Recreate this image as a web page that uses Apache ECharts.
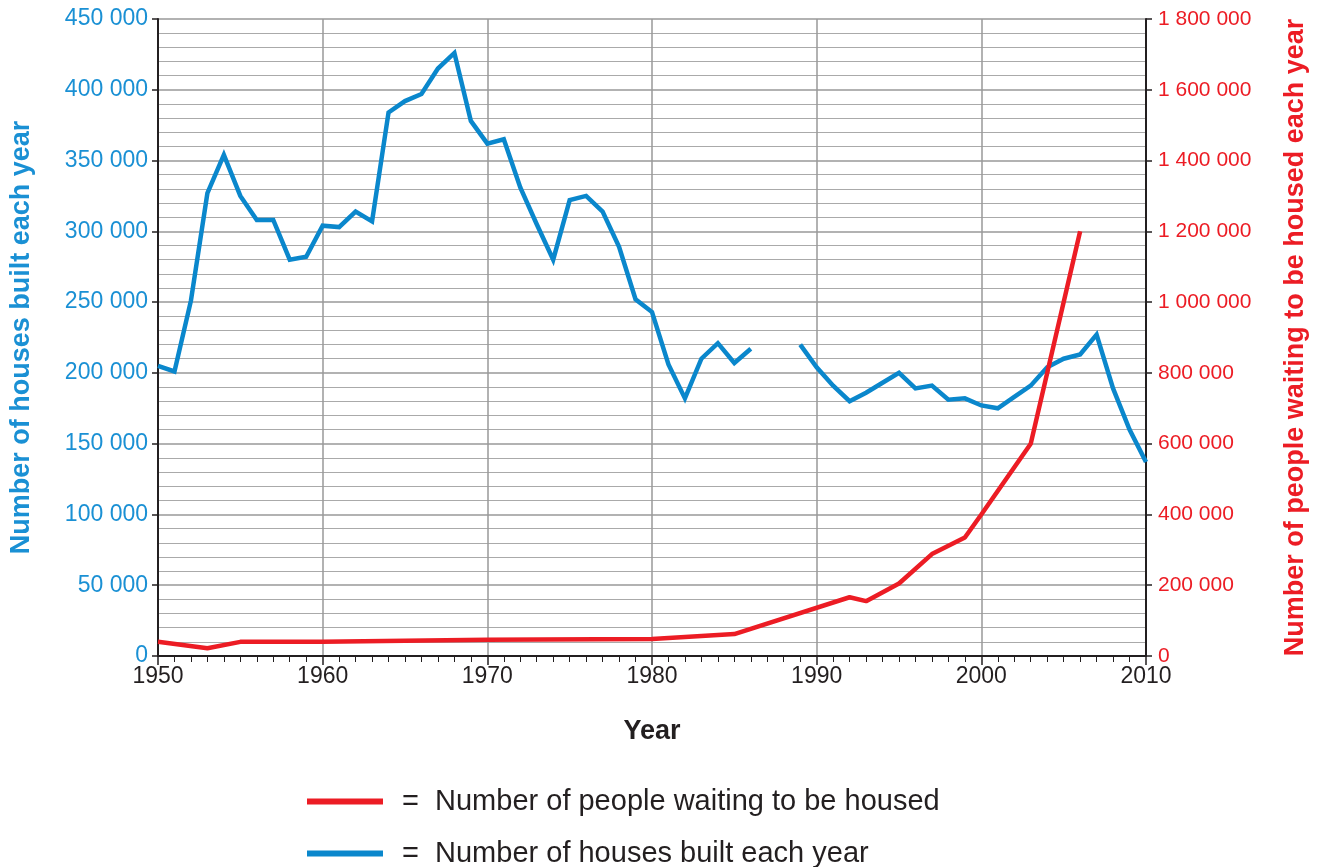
<!DOCTYPE html>
<html>
<head>
<meta charset="utf-8">
<script src="https://cdn.jsdelivr.net/npm/echarts@6/dist/echarts.min.js"></script>
<style>
html,body{margin:0;padding:0;background:#fff;}
#chart{width:1321px;height:867px;}
</style>
</head>
<body>
<div id="chart"></div>
<script>
const years = [1950,1951,1952,1953,1954,1955,1956,1957,1958,1959,1960,1961,1962,1963,1964,1965,1966,1967,1968,1969,1970,1971,1972,1973,1974,1975,1976,1977,1978,1979,1980,1981,1982,1983,1984,1985,1986,1987,1988,1989,1990,1991,1992,1993,1994,1995,1996,1997,1998,1999,2000,2001,2002,2003,2004,2005,2006,2007,2008,2009,2010];
const housesBuilt = [205000,201000,251000,327000,354000,325000,308000,308000,280000,282000,304000,303000,314000,307000,384000,392000,397000,415000,426000,378000,362000,365000,331000,305000,280000,322000,325000,314000,289000,252000,243000,206000,182000,210000,221000,207000,217000,null,null,220000,204000,191000,180000,186000,193000,200000,189000,191000,181000,182000,177000,175000,183000,191000,204000,210000,213000,227000,189000,160000,137000];
const waitingYears = [1950,1953,1955,1960,1970,1980,1985,1992,1993,1995,1997,1999,2000,2003,2006];
const waitingPeople = [40000,22000,40000,40000,46000,48000,62000,166000,155000,205000,288000,335000,400000,600000,1200000];

const nameBuilt = 'Number of houses built each year';
const nameWaiting = 'Number of people waiting to be housed';
const leftAxisName = 'Number of houses built each year';
const rightAxisName = 'Number of people waiting to be housed each year';
const xAxisName = 'Year';

const BLUE = '#0a87cc';
const RED = '#ec1c24';
const LBLUE = '#1a90d4';
const FONT = '"Liberation Sans", Arial, sans-serif';

function fmt(v){ return String(v).replace(/\B(?=(\d{3})+(?!\d))/g, ' '); }

const legendCommon = {
  orient: 'horizontal',
  left: 302,
  itemWidth: 76, itemHeight: 6,
  icon: 'rect',
  formatter: n => '=  ' + n,
  textStyle: { fontSize: 29, color: '#231f20', fontFamily: FONT, padding: [0,0,0,14] }
};

const chart = echarts.init(document.getElementById('chart'));
chart.setOption({
  backgroundColor: '#fff',
  animation: false,
  textStyle: { fontFamily: FONT },
  grid: { left: 158, right: 175, top: 19, bottom: 211, containLabel: false, outerBoundsMode: 'none' },
  legend: [
    Object.assign({}, legendCommon, { data: [nameWaiting], top: 782 }),
    Object.assign({}, legendCommon, { data: [nameBuilt], top: 834 })
  ],
  xAxis: {
    type: 'value', min: 1950, max: 2010, interval: 10,
    name: xAxisName, nameLocation: 'middle', nameGap: 62,
    nameTextStyle: { fontSize: 27, fontWeight: 'bold', color: '#231f20', fontFamily: FONT },
    axisLine: { lineStyle: { color: '#231f20', width: 2 } },
    axisTick: { show: true, length: 9, lineStyle: { color: '#231f20', width: 1.5 } },
    minorTick: { show: true, splitNumber: 10, length: 6, lineStyle: { color: '#231f20', width: 1 } },
    axisLabel: { fontSize: 23, color: '#231f20', margin: 9, formatter: v => String(v) },
    splitLine: { show: true, lineStyle: { color: '#999', width: 1.5 } }
  },
  yAxis: [
    {
      type: 'value', min: 0, max: 450000, interval: 50000,
      name: leftAxisName, nameLocation: 'middle', nameGap: 123, nameRotate: 90,
      nameTextStyle: { fontSize: 27, fontWeight: 'bold', color: LBLUE, fontFamily: FONT },
      axisLine: { show: true, lineStyle: { color: '#231f20', width: 2 } },
      axisTick: { show: true, length: 6, lineStyle: { color: '#231f20', width: 1.5 } },
      minorTick: { show: false, splitNumber: 5 },
      axisLabel: { fontSize: 23, color: LBLUE, margin: 10, formatter: fmt },
      splitLine: { show: true, lineStyle: { color: '#999', width: 1.5 } },
      minorSplitLine: { show: true, lineStyle: { color: '#aaa', width: 1.2 } }
    },
    {
      type: 'value', min: 0, max: 1800000, interval: 200000, position: 'right',
      name: rightAxisName, nameLocation: 'middle', nameGap: 136, nameRotate: 90,
      nameTextStyle: { fontSize: 27, fontWeight: 'bold', color: RED, fontFamily: FONT },
      axisLine: { show: true, lineStyle: { color: '#231f20', width: 2 } },
      axisTick: { show: true, length: 6, lineStyle: { color: '#231f20', width: 1.5 } },
      axisLabel: { fontSize: 21, color: RED, margin: 12, formatter: fmt },
      splitLine: { show: false }
    }
  ],
  series: [
    {
      name: nameBuilt, type: 'line', yAxisIndex: 0,
      data: years.map((y, i) => [y, housesBuilt[i]]),
      connectNulls: false, showSymbol: false, symbol: 'none',
      lineStyle: { color: BLUE, width: 4.5, join: 'miter' },
      itemStyle: { color: BLUE }
    },
    {
      name: nameWaiting, type: 'line', yAxisIndex: 1,
      data: waitingYears.map((y, i) => [y, waitingPeople[i]]),
      showSymbol: false, symbol: 'none',
      lineStyle: { color: RED, width: 4.5 },
      itemStyle: { color: RED }
    }
  ]
});
</script>
</body>
</html>
